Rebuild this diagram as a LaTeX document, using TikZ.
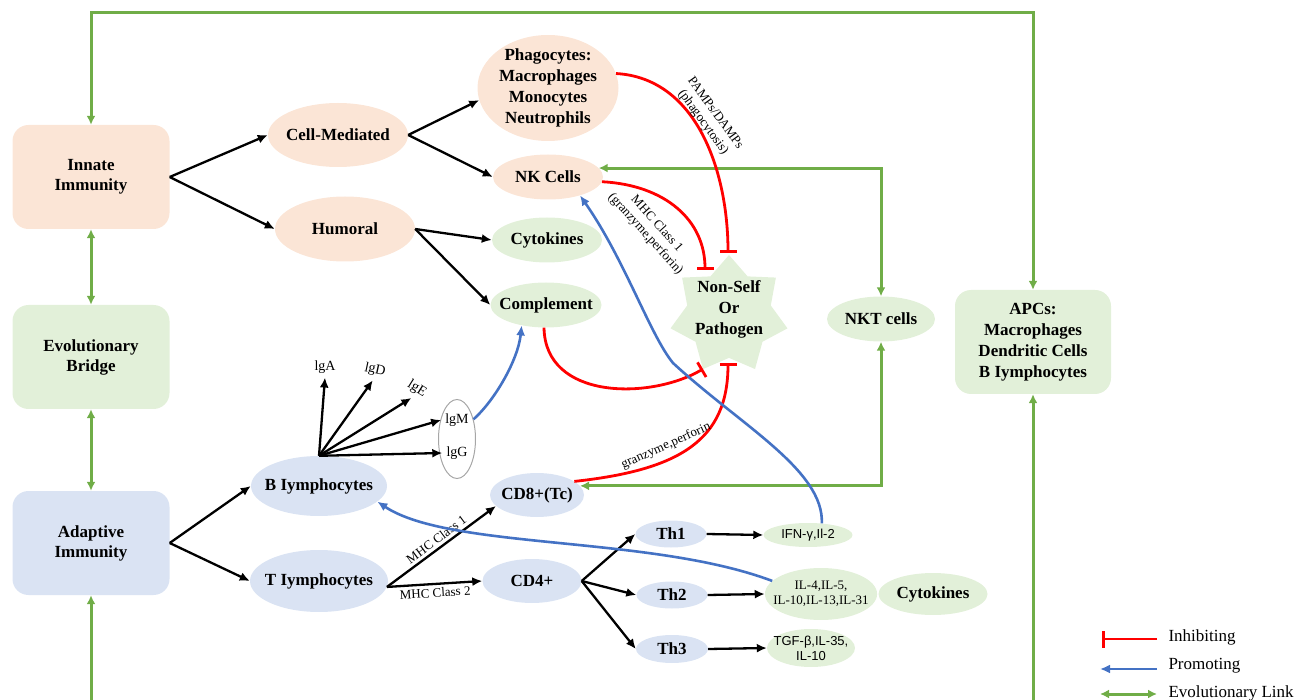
\documentclass[tikz,border=0pt]{standalone}
\usepackage{fontspec}
\setmainfont{Liberation Serif}
\newfontfamily\arialfont{Liberation Sans}
\usetikzlibrary{shapes.geometric}
\usetikzlibrary{arrows.meta}
\usetikzlibrary{calc}
\definecolor{peach}{HTML}{FBE5D6}
\definecolor{palegreen}{HTML}{E2F0D9}
\definecolor{paleblue}{HTML}{DAE3F3}
\definecolor{evogreen}{HTML}{70AD47}
\definecolor{promoblue}{HTML}{4472C4}
\tikzset{
  bigbox/.style={rectangle,rounded corners=16pt,minimum width=157pt,minimum height=104pt,align=center,font=\fontsize{17}{20}\selectfont\bfseries},
  celloval/.style={ellipse,inner xsep=-8pt,inner ysep=-6pt,align=center,font=\fontsize{17}{21}\selectfont\bfseries},
  cyto/.style={ellipse,fill=palegreen,inner xsep=-8pt,inner ysep=-2pt,align=center,font=\fontsize{13}{15}\selectfont},
  starlabel/.style={align=center,yshift=6pt,font=\fontsize{17}{21}\selectfont\bfseries},
  iglabel/.style={inner sep=4pt,font=\fontsize{14}{16}\selectfont},
  mhc/.style={inner sep=3pt,align=center,font=\fontsize{13}{15}\selectfont},
  legendtext/.style={anchor=west,font=\fontsize{17}{20}\selectfont},
  arr/.style={line width=2.3pt,-{Latex[length=10pt,width=9pt]}},
  evo/.style={evogreen,line width=3pt,{Latex[length=9pt,width=9pt]}-{Latex[length=9pt,width=9pt]}},
  evoone/.style={evogreen,line width=3pt,-{Latex[length=9pt,width=9pt]}},
  inhib/.style={red,line width=2.8pt,-{Bar[width=17pt]}},
  promo/.style={promoblue,line width=2.6pt,-{Latex[length=10pt,width=9pt]}}
}

\begin{document}
\begin{tikzpicture}[x=1pt,y=-1pt]
  \useasboundingbox (0,0) rectangle (1296,700);
  \node[bigbox,fill=peach] (innate) at (91,177) {Innate\\Immunity};
  \node[bigbox,fill=palegreen] (bridge) at (91,357) {Evolutionary\\Bridge};
  \node[bigbox,fill=paleblue] (adaptive) at (91,543) {Adaptive\\Immunity};
  \node[bigbox,fill=palegreen,minimum width=156pt,font=\fontsize{17}{21}\selectfont\bfseries] (apc) at (1033,342) {APCs:\\Macrophages\\Dendritic Cells\\B Iymphocytes};

  \node[celloval,fill=peach,minimum width=140pt,minimum height=64pt] (cellmed) at (338,135) {Cell-Mediated};
  \node[celloval,fill=peach,minimum width=140pt,minimum height=65pt] (humoral) at (345,229) {Humoral};
  \node[celloval,fill=peach,minimum width=141pt,minimum height=106pt] (phago) at (548,88) {Phagocytes:\\Macrophages\\Monocytes\\Neutrophils};
  \node[celloval,fill=peach,minimum width=110pt,minimum height=45pt] (nk) at (548,177) {NK Cells};
  \node[celloval,fill=palegreen,minimum width=110pt,minimum height=45pt] (cytoin) at (547,240) {Cytokines};
  \node[celloval,fill=palegreen,minimum width=111pt,minimum height=45pt] (compl) at (546,305) {Complement};
  \node[celloval,fill=palegreen,minimum width=108pt,minimum height=45pt] (nkt) at (881,319) {NKT cells};
  \node[star,star points=7,star point ratio=1.4,minimum size=120pt,inner sep=0pt,fill=palegreen,label={[starlabel]center:Non-Self\\Or\\Pathogen}] (pathogen) at (729,315) {};

  \node[celloval,fill=paleblue,minimum width=136pt,minimum height=60pt] (blym) at (319,486) {B Iymphocytes};
  \node[celloval,fill=paleblue,minimum width=138pt,minimum height=62pt] (tlym) at (319,581) {T Iymphocytes};
  \node[celloval,fill=paleblue,minimum width=94pt,minimum height=44pt] (cd8) at (537,495) {CD8+(Tc)};
  \node[celloval,fill=paleblue,minimum width=99pt,minimum height=44pt] (cd4) at (532,581) {CD4+};
  \node[celloval,fill=paleblue,minimum width=71pt,minimum height=27pt] (th1) at (671,534) {Th1};
  \node[celloval,fill=paleblue,minimum width=71pt,minimum height=27pt] (th2) at (672,595) {Th2};
  \node[celloval,fill=paleblue,minimum width=72pt,minimum height=28pt] (th3) at (672,649) {Th3};
  \node[cyto,minimum width=89pt,minimum height=24pt,font=\arialfont\fontsize{13}{15}\selectfont] (ifn) at (808,535) {IFN-γ,Il-2};
  \node[cyto,minimum width=112pt,minimum height=52pt] (il4) at (821,594) {IL-4,IL-5,\\IL-10,IL-13,IL-31};
  \node[cyto,minimum width=88pt,minimum height=38pt,font=\arialfont\fontsize{13}{15}\selectfont] (tgf) at (811,648) {TGF-β,IL-35,\\IL-10};
  \node[celloval,fill=palegreen,minimum width=109pt,minimum height=42pt] (cytoout) at (933,594) {Cytokines};

  \node[ellipse,draw=gray!70,line width=1pt,minimum width=37pt,minimum height=79pt] (igbox) at (457,439) {};
  \node[iglabel] (igm) at (457,420) {lgM};
  \node[iglabel] (igg) at (457,453) {lgG};
  \node[iglabel] (iga) at (325,367) {lgA};
  \node[iglabel,rotate=-12] (igd) at (375,370) {lgD};
  \node[iglabel,rotate=-32] (ige) at (417,389) {lgE};

  \draw[arr] (innate.east) -- (cellmed.west);
  \draw[arr] (innate.east) -- (humoral.west);
  \draw[arr] (cellmed.east) -- (phago.190);
  \draw[arr] (cellmed.east) -- (nk.west);
  \draw[arr] (humoral.east) -- (cytoin.west);
  \draw[arr] (humoral.east) -- (compl.west);
  \draw[arr] (adaptive.east) -- (blym.west);
  \draw[arr] (adaptive.east) -- (tlym.west);
  \foreach \g in {iga,igd,ige}
    \draw[arr] (blym.north) -- (\g.south);
  \foreach \g in {igm,igg}
    \draw[arr] (blym.north) -- (\g.west);
  \draw[arr] (tlym.-5) -- (cd8.-165) node[mhc,midway,sloped,above] {MHC Class 1};
  \draw[arr] (tlym.-5) -- (cd4.west) node[mhc,midway,sloped,below] {MHC Class 2};
  \foreach \t in {th1,th2,th3}
    \draw[arr] (cd4.east) -- (\t.west);
  \foreach \t/\c in {th1/ifn,th2/il4,th3/tgf}
    \draw[arr] (\t.east) -- (\c.west);

  \coordinate (topturn) at (560,13);
  \coordinate (leftfoot) at (91,700);
  \coordinate (rightfoot) at (1033,700);
  \draw[evo] (innate.north) |- (topturn) -| (apc.north);
  \draw[evo] (innate.south) -- (bridge.north);
  \draw[evo] (bridge.south) -- (adaptive.north);
  \draw[evoone] (leftfoot) -- (adaptive.south);
  \draw[evoone] (rightfoot) -- (apc.south);
  \draw[evo] (nk.10) -| (nkt.north);
  \draw[evo] (cd8.12) -| (nkt.south);

  \coordinate (hitphago) at ($(pathogen.center)+(-1,-62)$);
  \coordinate (hitnk) at ($(pathogen.center)+(-24,-45)$);
  \coordinate (hitcompl) at ($(pathogen.center)+(-26,54)$);
  \coordinate (hitcd8) at ($(pathogen.center)+(-1,48)$);
  \draw[inhib] (phago.12) .. controls (697,78) and (728,172) .. (hitphago);
  \draw[inhib] (nk.-5) .. controls (665,185) and (705,220) .. (hitnk);
  \draw[inhib] (compl.-95) .. controls (545,400) and (650,400) .. (hitcompl);
  \draw[inhib] (cd8.20) .. controls (680,470) and (728,440) .. (hitcd8);
  \node[mhc,rotate=-54] (pampslabel) at (709,118) {PAMPs/DAMPs\\(phagocytosis)};
  \node[mhc,rotate=-48] (mhclabel) at (651,229) {MHC Class 1\\(granzyme,perforin)};
  \node[mhc,rotate=24] (granlabel) at (666,446) {granzyme,perforin};

  \draw[promo] (igbox.50) .. controls (495,400) and (518,360) .. (compl.-140);
  \draw[promo] (ifn.40) .. controls (824,470) and (740,425) .. (673,363) .. controls (650,335) and (625,260) .. (nk.-30);
  \draw[promo] (il4.165) .. controls (650,535) and (450,550) .. (blym.-15);

  \node[legendtext] (inhtext) at (1165,637) {Inhibiting};
  \node[legendtext] (promtext) at (1165,666) {Promoting};
  \node[legendtext] (evotext) at (1165,693) {Evolutionary Link};
  \coordinate (inhR) at (1157,639);
  \coordinate (inhL) at (1102,639);
  \coordinate (promR) at (1157,669);
  \coordinate (promL) at (1100,669);
  \coordinate (evoR) at (1157,694);
  \coordinate (evoL) at (1100,694);
  \draw[inhib] (inhR) -- (inhL);
  \draw[promo] (promR) -- (promL);
  \draw[evo] (evoL) -- (evoR);
\end{tikzpicture}
\end{document}
